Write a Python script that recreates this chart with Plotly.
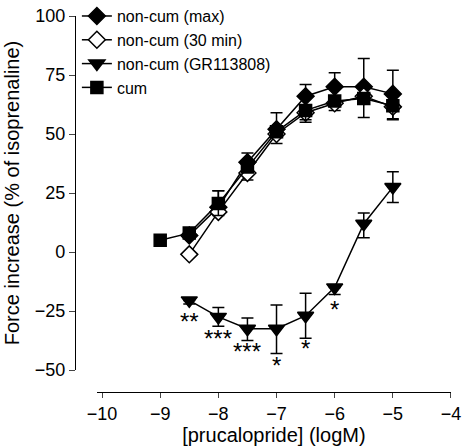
import plotly.graph_objects as go

# ---- data ----
x_noncum = [-8.5, -8, -7.5, -7, -6.5, -6, -5.5, -5]
x_cum = [-9, -8.5, -8, -7.5, -7, -6.5, -6, -5.5, -5]

max_y = [7, 19, 38, 52, 66, 70, 70, 67]
max_up = [0, 7, 4, 7, 5, 6, 12, 10]
max_dn = [0, 0, 0, 0, 0, 0, 0, 0]

min30_y = [-1, 17, 33.5, 50, 59, 63, 66, 61.5]
min30_up = [0, 0, 0, 0, 0, 0, 0, 0]
min30_dn = [0, 0, 3, 4, 4, 3, 9, 5]

gr_y = [-20.5, -27.5, -32.5, -32.5, -27, -15, 12, 27.5]
gr_up = [0, 4, 4.5, 10, 9.5, 0, 4.5, 6.5]
gr_dn = [1.5, 4, 5, 10.5, 9.5, 3, 6, 6.5]

cum_y = [5, 8, 20.5, 36, 51, 60, 64, 65, 62]
cum_up = [0, 0, 5.5, 0, 0, 0, 0, 0, 0]
cum_dn = [0, 0, 5, 0, 0, 4, 0, 0, 6]

star_x = [-8.5, -8, -7.5, -7, -6.5, -6]
star_y = [-29.5, -36.5, -42, -48, -41, -24.5]
star_text = ["**", "***", "***", "*", "*", "*"]

x_ticks = [-10, -9, -8, -7, -6, -5, -4]
y_ticks = [-50, -25, 0, 25, 50, 75, 100]

FONT = "Liberation Sans, Arial, Helvetica, sans-serif"

fig = go.Figure()

def add(name, xs, ys, up, dn, symbol, fill, size):
    fig.add_trace(go.Scatter(
        x=xs, y=ys, name=name, mode="lines+markers",
        legendgroup=name,
        line=dict(color="black", width=1.5),
        marker=dict(symbol=symbol, size=size, color=fill,
                    line=dict(color="black", width=1.5)),
        error_y=dict(type="data", array=up, arrayminus=dn, symmetric=False,
                     color="black", thickness=1.5, width=6),
    ))

add("non-cum (max)", x_noncum, max_y, max_up, max_dn, "diamond", "black", 13)
add("non-cum (30 min)", x_noncum, min30_y, min30_up, min30_dn, "diamond", "white", 13)
add("non-cum (GR113808)", x_noncum, gr_y, gr_up, gr_dn, "triangle-down", "black", 14)
add("cum", x_cum, cum_y, cum_up, cum_dn, "square", "black", 12)

for sx, sy, st in zip(star_x, star_y, star_text):
    fig.add_annotation(x=sx, y=sy, text=st, showarrow=False,
                       font=dict(size=24, color="black", family=FONT))

fig.update_layout(
    width=462, height=447,
    margin=dict(l=75, r=11, t=16, b=55, autoexpand=False),
    paper_bgcolor="white", plot_bgcolor="white",
    font=dict(family=FONT, color="black"),
    showlegend=True,
    legend=dict(x=0.005, y=1.045, xanchor="left", yanchor="top",
                font=dict(size=16, family=FONT), bgcolor="rgba(0,0,0,0)",
                tracegroupgap=0, itemwidth=30),
    xaxis=dict(range=[-10.09, -4], domain=[0.058, 1], anchor="free", position=0,
               tickvals=x_ticks, ticks="outside", ticklen=5, tickwidth=1.3,
               showline=True, linecolor="black", linewidth=1.3,
               showgrid=False, zeroline=False,
               tickfont=dict(size=18, family=FONT),
               title=dict(text="[prucalopride] (logM)", font=dict(size=20, family=FONT), standoff=3),
               automargin=False),
    yaxis=dict(range=[-50, 100], domain=[0.0585, 1], anchor="free", position=0,
               tickvals=y_ticks, ticks="outside", ticklen=6, tickwidth=1.3,
               showline=True, linecolor="black", linewidth=1.3,
               showgrid=False, zeroline=False,
               tickfont=dict(size=18, family=FONT),
               title=dict(text="Force increase (% of isoprenaline)", font=dict(size=20, family=FONT), standoff=8),
               automargin=False),
)

fig.write_html("out.html", config={"displayModeBar": False},
               post_script="document.body.style.margin='0';")
